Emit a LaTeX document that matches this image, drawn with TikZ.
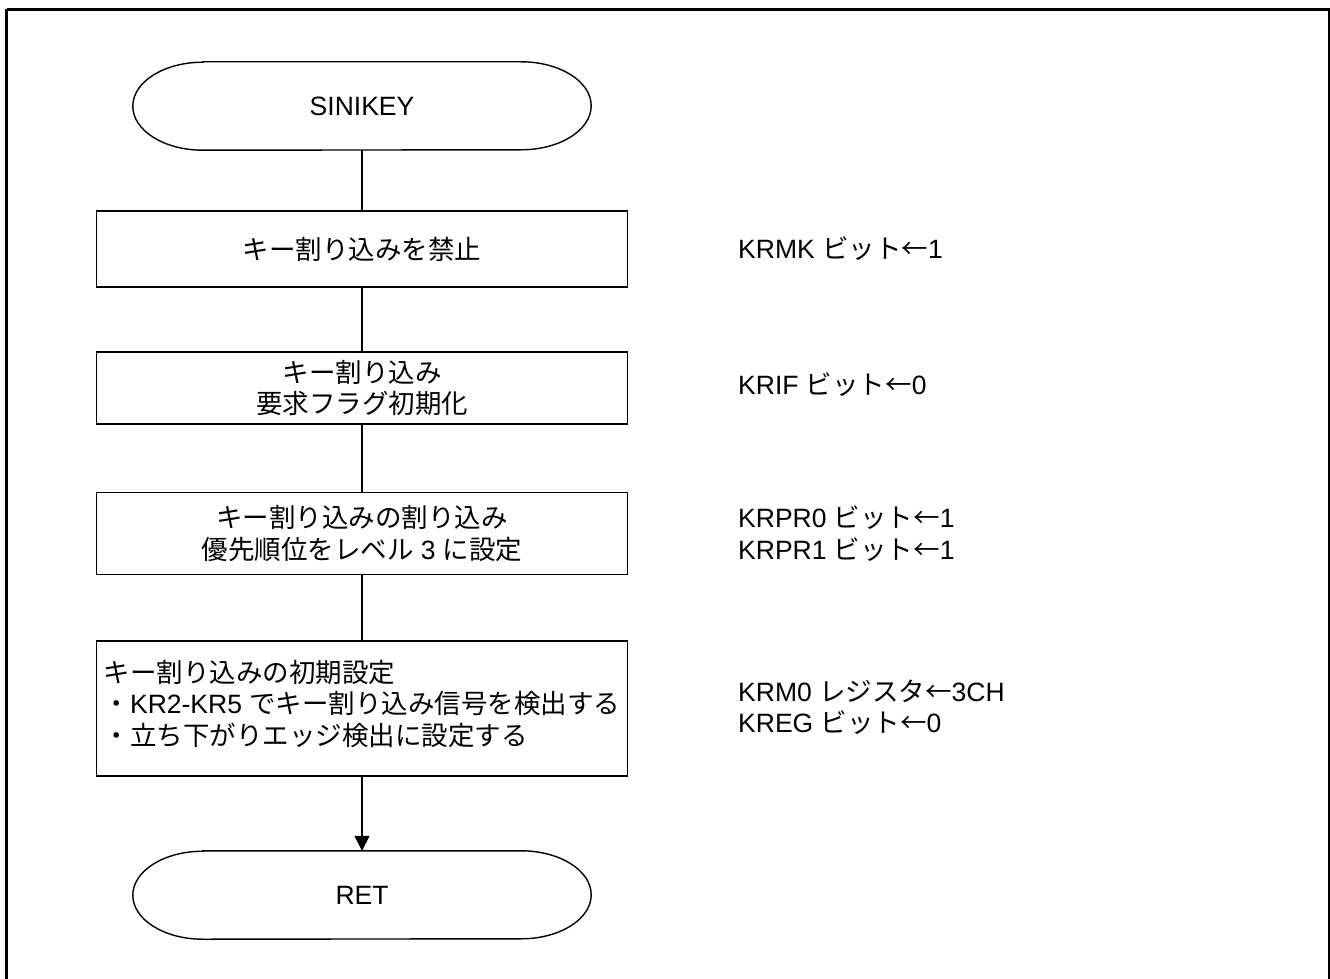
\documentclass[tikz,border=0pt]{standalone}
\usepackage{fontspec}
\setmainfont{Liberation Sans}
\newfontfamily\jpfont{Noto Sans CJK JP}
\newcommand{\J}[1]{{\jpfont #1}}
\usetikzlibrary{arrows.meta}
\begin{document}
\begin{tikzpicture}[x=1pt,y=1pt,
  every node/.style={font=\fontsize{26.5}{31.5}\selectfont},
  procbox/.style={draw,line width=1.4pt,minimum width=531pt,inner sep=0pt,align=center},
  termbox/.style={minimum width=458pt,minimum height=88pt,inner sep=0pt},
  lbl/.style={anchor=west,align=left,inner sep=0pt},
  conn/.style={line width=1.4pt},
  outer/.style={line width=2.6pt}]
\useasboundingbox (0,0) rectangle (1330,-979);
\draw[outer] (6.5,-9.5) -- (1328.8,-9.5) -- (1328.8,-995) (6.5,-995) -- (6.5,-9.5);
\newcommand{\termpath}[1]{\draw[line width=1.4pt] ([xshift=70pt]#1.north west) -- ([xshift=-70pt]#1.north east) arc[start angle=90,end angle=-90,x radius=70pt,y radius=44pt] -- ([xshift=70pt]#1.south west) arc[start angle=270,end angle=90,x radius=70pt,y radius=44pt] -- cycle;}
% terminators
\node[termbox] (start) at (362,-106) {SINIKEY};
\termpath{start}
\node[termbox] (ret) at (362,-895) {RET};
\termpath{ret}
% process boxes
\node[procbox,minimum height=76pt] (b1) at (362,-249) {\J{キー割り込みを禁止}};
\node[procbox,minimum height=72pt] (b2) at (362,-388) {\J{キー割り込み}\\\J{要求フラグ初期化}};
\node[procbox,minimum height=82pt] (b3) at (362,-533.5) {\J{キー割り込みの割り込み}\\\J{優先順位をレベル} 3 \J{に設定}};
\node[procbox,minimum height=135pt,align=left] (b4) at (362,-708.5)
  {\J{キー割り込みの初期設定}\\\J{・}KR2-KR5 \J{でキー割り込み信号を検出する}\\\J{・立ち下がりエッジ検出に設定する}\rule[-12pt]{0pt}{12pt}};
% connectors
\draw[conn] (start) -- (b1);
\draw[conn] (b1) -- (b2);
\draw[conn] (b2) -- (b3);
\draw[conn] (b3) -- (b4);
\draw[conn,-{Triangle[length=15pt,width=15pt]}] (b4) -- (ret);
% right labels
\node[lbl] (l1) at (738,-249) {KRMK \J{ビット←}1};
\node[lbl] (l2) at (738,-385) {KRIF \J{ビット←}0};
\node[lbl] (l3) at (738,-533.5) {KRPR0 \J{ビット←}1\\KRPR1 \J{ビット←}1};
\node[lbl] (l4) at (738,-707) {KRM0 \J{レジスタ←}3CH\\KREG \J{ビット←}0};
\end{tikzpicture}
\end{document}
